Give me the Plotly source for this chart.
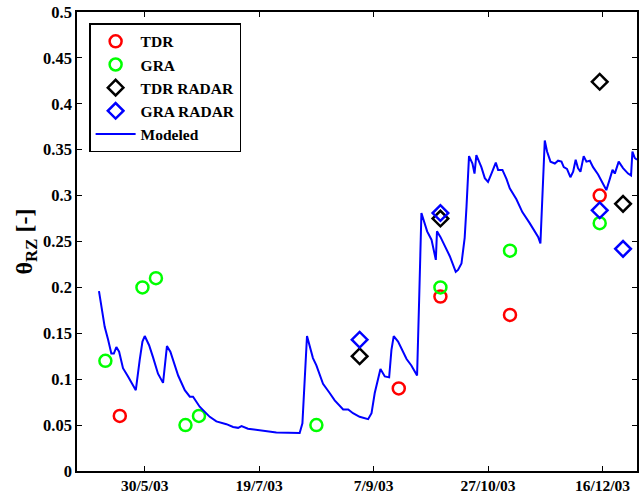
import pandas as pd
import plotly.graph_objects as go

BASE = "2003-05-30"

# Modeled soil moisture: days relative to 30/5/03 and theta values
model_days = [-20.0, -17.5, -16.0, -14.6, -13.5, -12.4, -11.2, -9.5, -7.3, -3.9, -2.2, -1.0, 0.0,
              1.9, 3.6, 5.8, 8.0, 9.7, 11.2, 14.6, 17.5, 19.7, 21.1, 24.0, 28.4, 31.3, 35.7, 38.6,
              40.8, 42.3, 45.1, 50.3, 53.2, 57.5, 67.7, 68.9, 70.9, 72.1, 73.5, 75.0, 77.9, 80.8,
              83.0, 86.7, 88.9, 91.0, 93.9, 97.6, 99.1, 100.5, 103.0, 104.9, 106.8, 107.8, 108.8,
              110.7, 114.4, 116.5, 119.0, 119.9, 120.9, 123.4, 125.3, 127.2, 127.7, 129.2, 131.1,
              133.3, 135.9, 136.9, 138.4, 139.8, 140.6, 141.7, 143.2, 144.1, 144.9, 147.1, 148.6,
              150.0, 151.5, 153.4, 154.4, 156.3, 158.1, 159.5, 162.4, 165.0, 168.2, 170.0, 171.9,
              172.9, 173.8, 174.8, 175.8, 177.3, 179.2, 180.6, 182.1, 183.1, 184.5, 186.0, 187.2,
              188.3, 189.3, 190.4, 191.8, 193.0, 194.5, 195.9, 198.1, 200.3, 201.7, 203.2, 204.4,
              205.4, 207.1, 209.0, 211.2, 212.5, 213.1, 214.1, 215.1]
model_theta = [0.196, 0.157, 0.143, 0.128, 0.128, 0.135, 0.130, 0.112, 0.103, 0.088, 0.121, 0.141, 0.147,
               0.137, 0.124, 0.106, 0.096, 0.136, 0.130, 0.104, 0.088, 0.081, 0.081, 0.070, 0.059, 0.054,
               0.051, 0.048, 0.047, 0.049, 0.046, 0.044, 0.043, 0.042, 0.0415, 0.052, 0.147, 0.135, 0.123,
               0.115, 0.095, 0.085, 0.077, 0.067, 0.067, 0.063, 0.059, 0.0565, 0.063, 0.085, 0.111, 0.103,
               0.102, 0.132, 0.147, 0.141, 0.122, 0.115, 0.104, 0.186, 0.281, 0.261, 0.252, 0.230, 0.261,
               0.255, 0.245, 0.234, 0.217, 0.219, 0.226, 0.254, 0.288, 0.343, 0.335, 0.324, 0.344, 0.331,
               0.319, 0.315, 0.324, 0.336, 0.328, 0.328, 0.318, 0.308, 0.296, 0.282, 0.270, 0.263, 0.255,
               0.248, 0.296, 0.360, 0.348, 0.337, 0.335, 0.338, 0.337, 0.331, 0.329, 0.320, 0.326, 0.339,
               0.330, 0.326, 0.343, 0.337, 0.338, 0.331, 0.323, 0.312, 0.306, 0.318, 0.328, 0.324, 0.337,
               0.330, 0.324, 0.322, 0.348, 0.341, 0.339]

tdr_days = [-10.9, 111.0, 129.2, 159.6, 198.8]
tdr_theta = [0.06, 0.09, 0.19, 0.17, 0.30]

gra_days = [-17.2, -1.0, 4.9, 17.8, 23.7, 75.0, 129.2, 159.6, 198.8]
gra_theta = [0.12, 0.20, 0.21, 0.05, 0.06, 0.05, 0.20, 0.24, 0.27]

tdr_radar_days = [93.9, 129.2, 198.8, 209.0]
tdr_radar_theta = [0.125, 0.275, 0.424, 0.291]

gra_radar_days = [93.9, 129.2, 198.8, 209.0]
gra_radar_theta = [0.143, 0.281, 0.284, 0.242]

tick_days = [0, 50, 100, 150, 200]
tick_labels = ["30/5/03", "19/7/03", "7/9/03", "27/10/03", "16/12/03"]
y_ticks = [0, 0.05, 0.1, 0.15, 0.2, 0.25, 0.3, 0.35, 0.4, 0.45, 0.5]
y_tick_labels = ["0", "0.05", "0.1", "0.15", "0.2", "0.25", "0.3", "0.35", "0.4", "0.45", "0.5"]
x_range_days = [-29.6, 215.1]


def to_dates(days):
    return list(pd.Timestamp(BASE) + pd.to_timedelta(days, unit="D"))


FONT = "Liberation Serif"

fig = go.Figure()
fig.add_trace(go.Scatter(x=to_dates(tdr_days), y=tdr_theta, mode="markers", name="<b>TDR</b>",
                         marker=dict(symbol="circle-open", size=12, color="#ff0000", line=dict(width=2.5))))
fig.add_trace(go.Scatter(x=to_dates(gra_days), y=gra_theta, mode="markers", name="<b>GRA</b>",
                         marker=dict(symbol="circle-open", size=12, color="#00ff00", line=dict(width=2.5))))
fig.add_trace(go.Scatter(x=to_dates(tdr_radar_days), y=tdr_radar_theta, mode="markers", name="<b>TDR RADAR</b>",
                         marker=dict(symbol="diamond-open", size=12, color="#000000", line=dict(width=2.5))))
fig.add_trace(go.Scatter(x=to_dates(gra_radar_days), y=gra_radar_theta, mode="markers", name="<b>GRA RADAR</b>",
                         marker=dict(symbol="diamond-open", size=12, color="#0000ff", line=dict(width=2.5))))
fig.add_trace(go.Scatter(x=to_dates(model_days), y=model_theta, mode="lines", name="<b>Modeled</b>",
                         line=dict(color="#0000ff", width=2)))

fig.update_layout(
    width=639, height=495,
    margin=dict(l=77, r=2, t=12, b=24, autoexpand=False),
    paper_bgcolor="white", plot_bgcolor="white",
    font=dict(family=FONT, size=16, color="black"),
    showlegend=True,
    legend=dict(x=0.022, y=0.975, xanchor="left", yanchor="top",
                bgcolor="white", bordercolor="black", borderwidth=1.3,
                font=dict(family=FONT, size=15.5, color="black"),
                tracegroupgap=0, itemwidth=40),
)
fig.update_xaxes(
    type="date",
    range=to_dates(x_range_days),
    tickvals=to_dates(tick_days), ticktext=["<b>%s</b>" % t for t in tick_labels],
    ticks="inside", ticklen=5, tickcolor="black",
    showline=True, linecolor="black", linewidth=1.5, mirror="ticks",
    showgrid=False, zeroline=False,
    tickfont=dict(family=FONT, size=15.5, color="black"),
)
fig.update_yaxes(
    range=[0, 0.5],
    tickvals=y_ticks,
    ticktext=["<b>%s</b>" % t for t in y_tick_labels],
    ticks="inside", ticklen=5, tickcolor="black",
    showline=True, linecolor="black", linewidth=1.5, mirror="ticks",
    showgrid=False, zeroline=False,
    tickfont=dict(family=FONT, size=16.5, color="black"),
    title=dict(text="<b>θ<sub>RZ</sub> [-]</b>", font=dict(family=FONT, size=24, color="black"), standoff=4),
)

fig.write_html("out.html", config={"displayModeBar": False},
               post_script="document.body.style.margin='0';document.body.style.padding='0';")
